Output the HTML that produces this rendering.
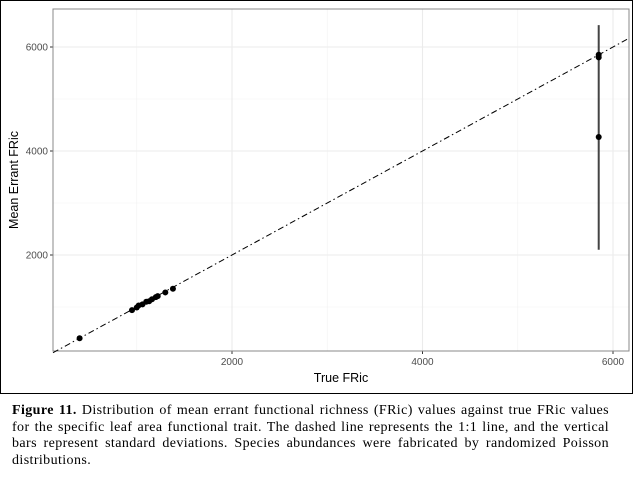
<!DOCTYPE html>
<html><head><meta charset="utf-8"><style>
body{margin:0;background:#fff;width:634px;height:482px;overflow:hidden;font-family:"Liberation Sans",sans-serif}
#fig{position:absolute;left:0;top:0;width:631px;height:392px;border:1px solid #000}
#cap{position:absolute;left:12px;top:403px;width:597px;font-family:"Liberation Serif",serif;font-size:14px;letter-spacing:0.4px;line-height:16.5px;color:#000;text-align:justify}
</style></head><body>
<div id="fig">
<svg id="chart" width="631" height="392"></svg>
</div>
<div id="cap"><b>Figure 11.</b> Distribution of mean errant functional richness (FRic) values against true FRic values for the specific leaf area functional trait. The dashed line represents the 1:1 line, and the vertical bars represent standard deviations. Species abundances were fabricated by randomized Poisson distributions.</div>
<script>
const xTicks=[2000,4000,6000];
const yTicks=[2000,4000,6000];
const trueFric=[400,950,1000,1020,1060,1100,1130,1160,1200,1220,1300,1380,5850,5850,5850];
const meanFric=[400,940,990,1030,1050,1100,1110,1150,1190,1210,1280,1350,5800,5850,4270];
const sdLow=[null,null,null,null,null,null,null,null,null,null,null,null,null,null,2100];
const sdHigh=[null,null,null,null,null,null,null,null,null,null,null,null,null,null,6420];
const ns="http://www.w3.org/2000/svg",svg=document.getElementById('chart');
const L=52,R=628,T=8,B=350;
const sx=v=>40.5+v*(190.5/2000), sy=v=>358-v*(104/2000);
function mk(t,a,p){const e=document.createElementNS(ns,t);for(const k in a)e.setAttribute(k,a[k]);(p||svg).appendChild(e);return e;}
for(const v of [1000,3000,5000]){
 let g=mk('line',{x1:sx(v),x2:sx(v),y1:T,y2:B,stroke:'#f2f2f2','stroke-width':0.6});
 
 g=mk('line',{x1:L,x2:R,y1:sy(v),y2:sy(v),stroke:'#f2f2f2','stroke-width':0.6});
 
}
xTicks.forEach(v=>{
 let g=mk('line',{x1:sx(v),x2:sx(v),y1:T,y2:B,stroke:'#ebebeb','stroke-width':1.1});
 
 mk('line',{x1:sx(v),x2:sx(v),y1:B,y2:B+3,stroke:'#333'});
 const t=mk('text',{x:sx(v),y:B+14,'text-anchor':'middle','font-size':10,fill:'#4d4d4d'});t.textContent=v;
 
});
yTicks.forEach(v=>{
 let g=mk('line',{x1:L,x2:R,y1:sy(v),y2:sy(v),stroke:'#ebebeb','stroke-width':1.1});
 
 mk('line',{x1:L-3,x2:L,y1:sy(v),y2:sy(v),stroke:'#333'});
 const t=mk('text',{x:L-5,y:sy(v)+3.5,'text-anchor':'end','font-size':10,fill:'#4d4d4d'});t.textContent=v;
 
});
let fr=mk('rect',{x:L,y:T,width:R-L,height:B-T,fill:'none',stroke:'#888','stroke-width':1});

const x0=(L-40.5)/(190.5/2000), x1=(R-40.5)/(190.5/2000);
let ln=mk('line',{x1:sx(x0),y1:sy(x0),x2:sx(x1),y2:sy(x1),stroke:'#000','stroke-width':1,'stroke-dasharray':'6 3 1.5 3'});

trueFric.forEach((x,i)=>{
 if(sdLow[i]!=null){const e=mk('line',{x1:sx(x),x2:sx(x),y1:sy(sdLow[i]),y2:sy(sdHigh[i]),stroke:'#444','stroke-width':2});
 }
});
trueFric.forEach((x,i)=>{
 const c=mk('circle',{cx:sx(x),cy:sy(meanFric[i]),r:3,fill:'#000'});
 
});
let xt=mk('text',{x:(L+R)/2,y:B+31,'text-anchor':'middle','font-size':12.5,fill:'#000'});xt.textContent='True FRic';

let yt=mk('text',{x:0,y:0,'text-anchor':'middle','font-size':12.5,fill:'#000',transform:`translate(17,${(T+B)/2}) rotate(-90)`});yt.textContent='Mean Errant FRic';

</script>
</body></html>
